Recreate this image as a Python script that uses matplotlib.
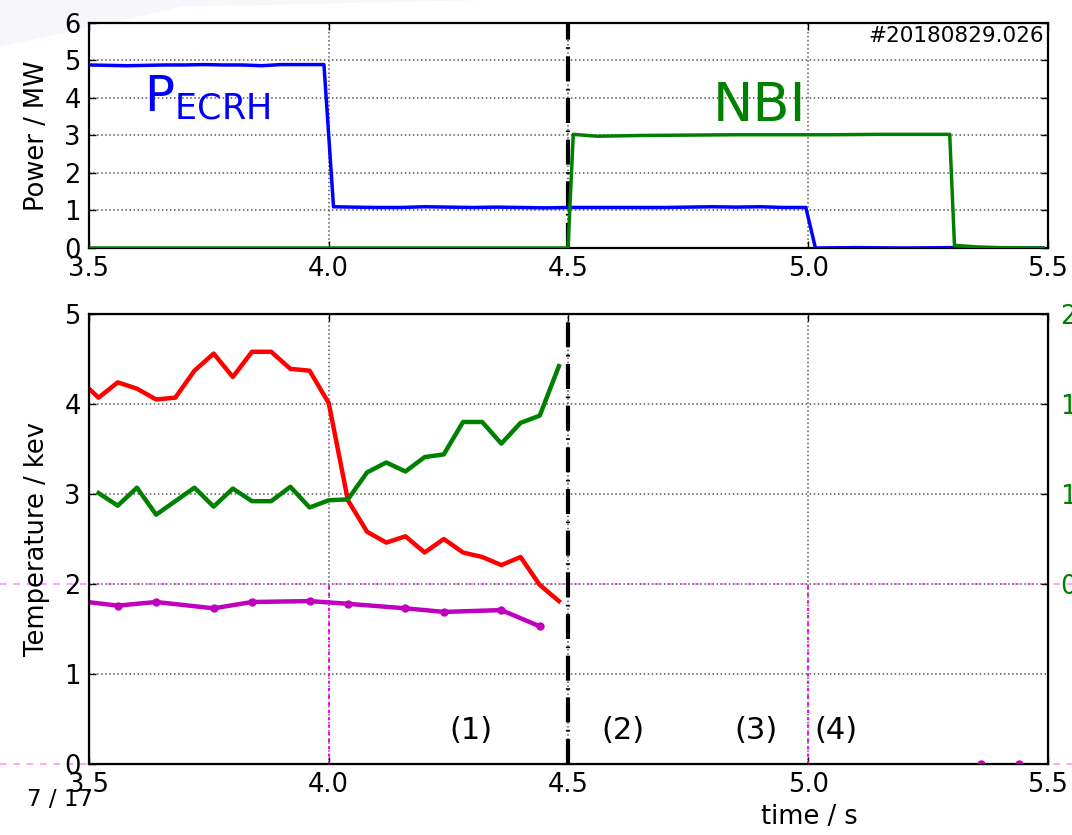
import numpy as np
import matplotlib
matplotlib.use('Agg')
import matplotlib.pyplot as plt
from matplotlib.patches import Polygon
from matplotlib.transforms import blended_transform_factory

# Heating power (top panel)
t_ecrh = [3.50, 3.54, 3.58, 3.62, 3.66, 3.70, 3.74, 3.78, 3.82, 3.86,
          3.90, 3.94, 3.99, 4.01, 4.05, 4.10, 4.15, 4.20, 4.25, 4.30,
          4.35, 4.40, 4.45, 4.50, 4.55, 4.60, 4.65, 4.70, 4.75, 4.80,
          4.85, 4.90, 4.95, 4.995, 5.015, 5.10, 5.20, 5.30, 5.40, 5.49]
p_ecrh = [4.88, 4.87, 4.86, 4.87, 4.88, 4.88, 4.89, 4.88, 4.88, 4.86,
          4.89, 4.89, 4.89, 1.10, 1.09, 1.08, 1.08, 1.10, 1.09, 1.08,
          1.09, 1.08, 1.07, 1.08, 1.08, 1.08, 1.08, 1.08, 1.09, 1.10,
          1.09, 1.10, 1.08, 1.08, 0.00, 0.01, 0.00, 0.01, 0.00, 0.00]

t_nbi = [3.50, 4.00, 4.499, 4.51, 4.56, 4.65, 4.75, 4.85, 4.95, 5.05,
         5.15, 5.25, 5.295, 5.305, 5.35, 5.40, 5.49]
p_nbi = [0.00, 0.00, 0.00, 3.03, 2.98, 3.00, 3.01, 3.02, 3.02, 3.02,
         3.03, 3.03, 3.03, 0.07, 0.03, 0.01, 0.00]

# Temperatures (bottom panel)
t_te = [3.48, 3.52, 3.56, 3.60, 3.64, 3.68, 3.72, 3.76, 3.80, 3.84,
        3.88, 3.92, 3.96, 4.00, 4.04, 4.08, 4.12, 4.16, 4.20, 4.24,
        4.28, 4.32, 4.36, 4.40, 4.44, 4.48]
te = [4.27, 4.07, 4.24, 4.17, 4.05, 4.07, 4.37, 4.56, 4.30, 4.58,
      4.58, 4.39, 4.37, 4.01, 2.93, 2.58, 2.46, 2.53, 2.35, 2.50,
      2.35, 2.30, 2.21, 2.30, 1.99, 1.81]

# green trace, right axis
t_green = [3.52, 3.56, 3.60, 3.64, 3.68, 3.72, 3.76, 3.80, 3.84, 3.88,
           3.92, 3.96, 4.00, 4.04, 4.08, 4.12, 4.16, 4.20, 4.24, 4.28,
           4.32, 4.36, 4.40, 4.44, 4.48]
green_vals = [1.005, 0.935, 1.035, 0.885, 0.96, 1.035, 0.93, 1.03, 0.96, 0.96,
              1.04, 0.925, 0.965, 0.97, 1.12, 1.175, 1.125, 1.205, 1.22, 1.40,
              1.40, 1.28, 1.395, 1.435, 1.71]

t_ti = [3.48, 3.56, 3.64, 3.76, 3.84, 3.96, 4.04, 4.16, 4.24, 4.36, 4.44, 4.48, 5.36, 5.40, 5.44]
ti = [1.81, 1.76, 1.80, 1.73, 1.80, 1.81, 1.78, 1.73, 1.69, 1.71, 1.53, np.nan, 0.0, np.nan, 0.0]

x_ticks = [3.5, 4.0, 4.5, 5.0, 5.5]
phase_x = [4.297, 4.614, 4.891, 5.058]
phase_labels = ['(1)', '(2)', '(3)', '(4)']

shot = '#20180829.026'
page = '7 / 17'

fig = plt.figure(figsize=(10.72, 8.35), dpi=100)

# faint slide background in the corner
bg = Polygon([(0, 1), (0, 0.944), (0.17, 0.992), (0.45, 1)],
             closed=True, transform=fig.transFigure,
             facecolor='#f6f6fb', edgecolor='none')
bg.set_zorder(-5)
fig.patches.append(bg)

dashdot = (0, (6.0, 1.8, 0.4, 1.8))

def style_axes(ax):
    for s in ax.spines.values():
        s.set_linewidth(1.6)
    ax.tick_params(direction='in', top=True, right=True, length=5, width=1,
                   labelsize=18.5, pad=6)
    ax.grid(True, color='0.35', linestyle=':', linewidth=1.1)
    ax.set_xlim(3.5, 5.5)
    ax.set_xticks(x_ticks)
    ax.set_xticklabels(['%.1f' % v for v in x_ticks])

#### Top panel: power
ax1 = fig.add_axes([0.083, 0.703, 0.8946, 0.2695])
style_axes(ax1)
ax1.axvline(4.5, color='k', lw=3, linestyle=dashdot, zorder=2)
ax1.plot(t_ecrh, p_ecrh, color='b', lw=2.5, zorder=3)
ax1.plot(t_nbi, p_nbi, color='g', lw=2.5, zorder=3)
ax1.set_ylim(0, 6)
ax1.set_yticks(range(7))
ax1.set_ylabel('Power / MW', fontsize=18.5)
ax1.yaxis.set_label_coords(-0.041, 0.5)
ax1.text(3.615, 3.63, r'$\mathregular{P_{ECRH}}$', color='b', fontsize=36, va='baseline')
ax1.text(4.80, 3.39, 'NBI', color='g', fontsize=39, va='baseline')
ax1.text(0.996, 0.985, shot, transform=ax1.transAxes, ha='right', va='top', fontsize=15.5)

#### Bottom panel: temperatures
ax2 = fig.add_axes([0.083, 0.085, 0.8946, 0.539])
style_axes(ax2)
ax2.set_ylim(0, 5)
ax2.set_yticks(range(6))
ax2.axvline(4.5, color='k', lw=3, linestyle=dashdot, zorder=4)
for xv in [4.0, 5.0]:
    ax2.axvline(xv, ymax=0.4, color='#ff00ff', lw=1.5, linestyle=(0, (1.5, 2)), zorder=2)
ax2.plot(t_te, te, color='r', lw=3.2, zorder=3)
ax2.plot(t_ti, ti, color='m', lw=3.2, marker='o', ms=5, zorder=3)

# magenta reference lines across the whole slide
tr = blended_transform_factory(fig.transFigure, ax2.transData)
for yv in [2, 0]:
    ax2.plot([0, 1], [yv, yv], transform=tr, color='#ff66ff', lw=1.2,
             linestyle=(0, (4, 4)), alpha=0.7, clip_on=False, zorder=1)

for xp, lab in zip(phase_x, phase_labels):
    ax2.text(xp, 0.37, lab, fontsize=22, ha='center', va='center')

ax2.set_ylabel('Temperature / kev', fontsize=18.5)
ax2.yaxis.set_label_coords(-0.041, 0.5)
ax2.set_xlabel('time / s', fontsize=18.5)
ax2.xaxis.set_label_coords(0.751, -0.088)

ax3 = ax2.twinx()
ax3.plot(t_green, green_vals, color='g', lw=3.2)
ax3.set_ylim(-0.5, 2.0)
ax3.set_yticks([0.5, 1.0, 1.5, 2.0])
ax3.set_yticklabels(['0.5', '1.0', '1.5', '2.0'])
ax3.tick_params(direction='in', length=5, width=1, labelsize=18.5, pad=9, colors='g')
ax3.tick_params(axis='y', color='k')

fig.text(0.025, 0.042, page, fontsize=16.5, va='center')

plt.savefig('out.png', dpi=100)
